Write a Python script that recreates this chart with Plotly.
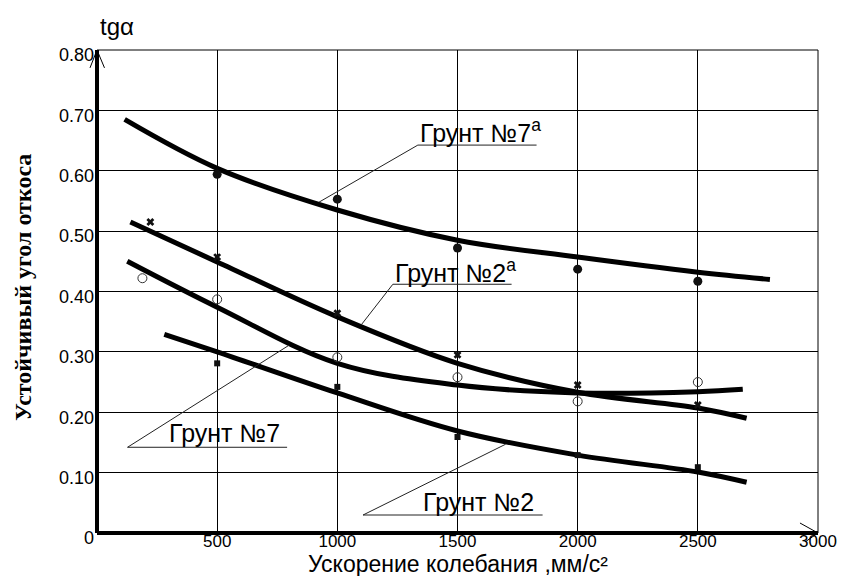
import plotly.graph_objects as go

# ---- data ----
# fitted curves
c7a_x = [115, 500, 1000, 1500, 2000, 2500, 2800]
c7a_y = [0.685, 0.604, 0.535, 0.485, 0.457, 0.432, 0.420]
c2a_x = [139, 500, 1000, 1500, 2000, 2500, 2703]
c2a_y = [0.515, 0.449, 0.358, 0.281, 0.233, 0.207, 0.190]
c7_x = [126, 500, 1000, 1500, 2000, 2500, 2687]
c7_y = [0.450, 0.374, 0.281, 0.245, 0.232, 0.234, 0.238]
c2_x = [280, 500, 1000, 1500, 2000, 2500, 2703]
c2_y = [0.329, 0.300, 0.232, 0.169, 0.129, 0.101, 0.084]

# measured points
p7a_x = [500, 1000, 1500, 2000, 2500]
p7a_y = [0.594, 0.553, 0.472, 0.437, 0.417]
p2a_x = [222, 500, 1000, 1500, 2000, 2500]
p2a_y = [0.515, 0.457, 0.364, 0.295, 0.245, 0.212]
p7_x = [189, 500, 1000, 1500, 2000, 2500]
p7_y = [0.422, 0.387, 0.291, 0.258, 0.218, 0.250]
p2_x = [500, 1000, 1500, 2000, 2500]
p2_y = [0.281, 0.242, 0.159, 0.129, 0.109]

x_tickvals = [500, 1000, 1500, 2000, 2500, 3000]
x_ticktext = ["500", "1000", "1500", "2000", "2500", "3000"]
y_tickvals = [0, 0.1, 0.2, 0.3, 0.4, 0.5, 0.6, 0.7, 0.8]
y_ticktext = ["0", "0.10", "0.20", "0.30", "0.40", "0.50", "0.60", "0.70", "0.80"]

# labels: text, text position (x, y), underline x0, x1, y, leader end (x, y)
labels = [
    ("Грунт №7<sup>а</sup>", 1335, 0.666, 1335, 1829, 0.6425, 924, 0.548),
    ("Грунт №2<sup>а</sup>", 1231, 0.434, 1231, 1725, 0.412, 1098, 0.344),
    ("Грунт №7", 530, 0.166, 127, 791, 0.142, 799, 0.311),
    ("Грунт №2", 1589, 0.0517, 1107, 1854, 0.0298, 1700, 0.147),
]

SANS = "Liberation Sans, Arial, sans-serif"
NARROW = "Liberation Sans Narrow, Arial Narrow, Liberation Sans, sans-serif"
SERIF = "Liberation Serif, Times New Roman, serif"

fig = go.Figure()

for cx, cy in [(c7a_x, c7a_y), (c2a_x, c2a_y), (c7_x, c7_y), (c2_x, c2_y)]:
    fig.add_trace(go.Scatter(x=cx, y=cy, mode="lines",
                             line=dict(color="black", width=5, shape="spline", smoothing=1.0),
                             hoverinfo="skip"))

fig.add_trace(go.Scatter(x=p7a_x, y=p7a_y, mode="markers",
                         marker=dict(symbol="circle", size=9, color="#111")))
fig.add_trace(go.Scatter(x=p2a_x, y=p2a_y, mode="markers",
                         marker=dict(symbol="x", size=7, color="#111", line=dict(width=0))))
fig.add_trace(go.Scatter(x=p7_x, y=p7_y, mode="markers",
                         marker=dict(symbol="circle-open", size=9, color="#333", line=dict(width=1))))
fig.add_trace(go.Scatter(x=p2_x, y=p2_y, mode="markers",
                         marker=dict(symbol="square", size=6, color="#111")))

shapes = []
annotations = []
for text, tx, ty, ux0, ux1, uy, lx, ly in labels:
    shapes.append(dict(type="line", xref="x", yref="y", x0=ux0, x1=ux1, y0=uy, y1=uy,
                       line=dict(color="#222", width=1)))
    shapes.append(dict(type="line", xref="x", yref="y", x0=ux0, x1=lx, y0=uy, y1=ly,
                       line=dict(color="#222", width=1)))
    xanchor = "left" if "<sup>" in text else "center"
    annotations.append(dict(x=tx, y=ty, xref="x", yref="y", text=text, showarrow=False,
                            xanchor=xanchor, yanchor="middle",
                            font=dict(family=SANS, size=25, color="black")))

# frame, thick axes and arrowheads (paper coordinates of plot area)
shapes += [
    dict(type="line", xref="paper", yref="paper", x0=0, y0=1, x1=1, y1=1,
         line=dict(color="black", width=1)),
    dict(type="line", xref="paper", yref="paper", x0=1, y0=0, x1=1, y1=1,
         line=dict(color="black", width=1)),
    dict(type="line", xref="paper", yref="paper", x0=0, y0=0, x1=0, y1=1,
         line=dict(color="black", width=4)),
    dict(type="line", xref="paper", yref="paper", x0=0, y0=0, x1=1, y1=0,
         line=dict(color="black", width=4)),
    dict(type="line", xref="paper", yref="paper", x0=0, y0=1, x1=-0.0097, y1=0.963,
         line=dict(color="black", width=1)),
    dict(type="line", xref="paper", yref="paper", x0=0, y0=1, x1=0.0104, y1=0.963,
         line=dict(color="black", width=1)),
    dict(type="line", xref="paper", yref="paper", x0=1, y0=0, x1=0.975, y1=0.0207,
         line=dict(color="black", width=1)),
    dict(type="line", xref="paper", yref="paper", x0=1, y0=0, x1=0.982, y1=-0.0186,
         line=dict(color="black", width=1)),
]

annotations += [
    dict(x=0.5, y=-0.064, xref="paper", yref="paper", text="Ускорение колебания ,мм/с²",
         showarrow=False, xanchor="center", yanchor="middle",
         font=dict(family=SANS, size=23, color="black")),
    dict(x=-0.103, y=0.509, xref="paper", yref="paper", text="<b>Устойчивый угол откоса</b>",
         showarrow=False, textangle=-90, xanchor="center", yanchor="middle",
         font=dict(family=SERIF, size=24, color="black")),
    dict(x=0.028, y=1.048, xref="paper", yref="paper", text="tgα",
         showarrow=False, xanchor="center", yanchor="middle",
         font=dict(family=SANS, size=24, color="black")),
]

fig.update_layout(
    width=849, height=576,
    margin=dict(l=97, r=29, t=50, b=43),
    paper_bgcolor="white", plot_bgcolor="white",
    showlegend=False,
    shapes=shapes, annotations=annotations,
    xaxis=dict(range=[0, 3000], tickvals=x_tickvals, ticktext=x_ticktext,
               showgrid=True, gridcolor="black", gridwidth=1,
               showline=False, zeroline=False, ticklabelstandoff=-4,
               ticks="", tickfont=dict(family=NARROW, size=17, color="black")),
    yaxis=dict(range=[0, 0.8], tickvals=y_tickvals, ticktext=y_ticktext,
               showgrid=True, gridcolor="black", gridwidth=1,
               showline=False, zeroline=False, ticklabelshift=5, ticklabelstandoff=2,
               ticks="", tickfont=dict(family=NARROW, size=18, color="black")),
)

fig.write_html("out.html")
